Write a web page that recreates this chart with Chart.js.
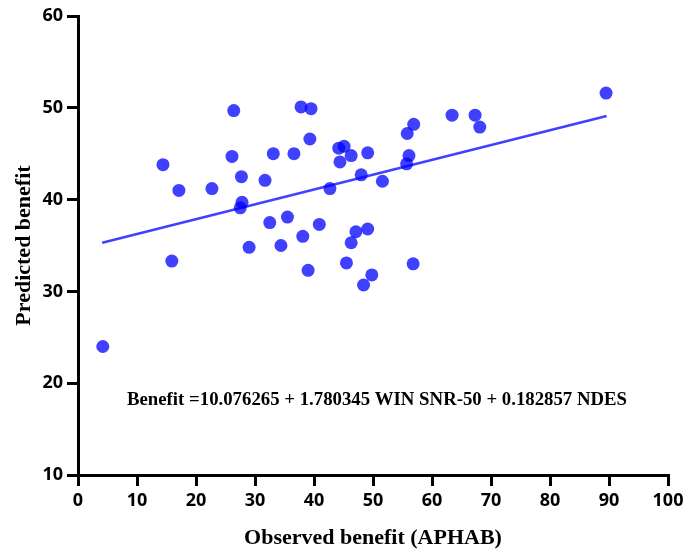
<!DOCTYPE html>
<html>
<head>
<meta charset="utf-8">
<script src="https://cdn.jsdelivr.net/npm/chart.js@4/dist/chart.umd.min.js"></script>
<style>
  html, body { margin: 0; padding: 0; background: #fff; }
  #wrap { width: 685px; height: 549px; }
</style>
</head>
<body>
<div id="wrap"><canvas id="c" width="685" height="549"></canvas></div>
<script>
// Observed (APHAB) vs predicted benefit per participant
const observed = [4.2, 14.4, 15.9, 17.1, 22.7, 26.4, 26.1, 27.7, 27.8, 27.5, 29.0, 31.7, 32.5, 33.1, 34.4, 35.5,
  36.6, 37.8, 38.1, 39.0, 39.3, 39.5, 40.9, 42.7, 44.2, 45.1, 44.4, 46.3, 45.5, 46.3, 47.1, 48.0, 48.4, 49.1,
  49.1, 49.8, 51.6, 55.8, 56.9, 56.1, 55.7, 56.8, 63.4, 67.3, 68.1, 89.5];
const predicted = [24.0, 43.8, 33.3, 41.0, 41.2, 49.7, 44.7, 42.5, 39.7, 39.1, 34.8, 42.1, 37.5, 45.0, 35.0, 38.1,
  45.0, 50.1, 36.0, 32.3, 46.6, 49.9, 37.3, 41.2, 45.6, 45.8, 44.1, 44.8, 33.1, 35.3, 36.5, 42.7, 30.7, 45.1,
  36.8, 31.8, 42.0, 47.2, 48.2, 44.8, 43.9, 33.0, 49.2, 49.2, 47.9, 51.6];

// Fitted trend line end points
const fitX = [4.1, 89.6];
const fitY = [35.3, 49.1];

const xTicks = [0, 10, 20, 30, 40, 50, 60, 70, 80, 90, 100];
const yTicks = [10, 20, 30, 40, 50, 60];

const equationText = 'Benefit =10.076265 + 1.780345 WIN SNR-50 + 0.182857 NDES';
const equationAt = { x: 8.3, y: 18.2 };

const blue = 'rgba(0, 0, 255, 0.75)';

const equationPlugin = {
  id: 'equation',
  afterDatasetsDraw(chart) {
    const ctx = chart.ctx;
    const px = chart.scales.x.getPixelForValue(equationAt.x);
    const py = chart.scales.y.getPixelForValue(equationAt.y);
    ctx.save();
    ctx.font = 'bold 18.8px "Liberation Serif", "Times New Roman", serif';
    ctx.fillStyle = '#000';
    ctx.textAlign = 'left';
    ctx.textBaseline = 'middle';
    ctx.fillText(equationText, px, py);
    ctx.restore();
  }
};

const tickFont = { family: '"Open Sans", "Noto Sans", sans-serif', size: 18, weight: 'bold' };
const titleFont = { family: '"Liberation Serif", "Times New Roman", serif', size: 22, weight: 'bold', lineHeight: 1 };

new Chart(document.getElementById('c'), {
  type: 'scatter',
  data: {
    datasets: [
      {
        type: 'line',
        data: fitX.map((x, i) => ({ x, y: fitY[i] })),
        borderColor: blue,
        borderWidth: 2.5,
        pointRadius: 0,
        fill: false,
        order: 1
      },
      {
        data: observed.map((x, i) => ({ x, y: predicted[i] })),
        backgroundColor: blue,
        borderWidth: 0,
        pointRadius: 6.5,
        pointHoverRadius: 6.5,
        order: 2
      }
    ]
  },
  options: {
    responsive: false,
    animation: false,
    events: [],
    layout: { padding: { top: 16, right: 0, left: 0, bottom: 0 } },
    plugins: { legend: { display: false }, tooltip: { enabled: false } },
    scales: {
      x: {
        type: 'linear',
        min: 0, max: 100,
        afterBuildTicks: s => { s.ticks = xTicks.map(v => ({ value: v })); },
        afterFit: s => { s.height = 74; s.paddingRight = 17; s.paddingLeft = 0; },
        border: { color: '#000', width: 3 },
        grid: { drawOnChartArea: false, color: '#000', lineWidth: 3, tickLength: 11, tickWidth: 3, tickColor: '#000' },
        ticks: { color: '#000', font: tickFont, padding: 4, maxRotation: 0 },
        title: { display: true, text: 'Observed benefit (APHAB)', color: '#000', font: titleFont, padding: { top: 0, bottom: 0 } }
      },
      y: {
        type: 'linear',
        min: 10, max: 60,
        afterBuildTicks: s => { s.ticks = yTicks.map(v => ({ value: v })); },
        afterFit: s => { s.width = 78; },
        border: { color: '#000', width: 3 },
        grid: { drawOnChartArea: false, color: '#000', lineWidth: 3, tickLength: 11, tickWidth: 3, tickColor: '#000' },
        ticks: { color: '#000', font: tickFont, padding: 4 },
        title: { display: true, text: 'Predicted benefit', color: '#000', font: titleFont, padding: { top: 13, bottom: 0 } }
      }
    }
  },
  plugins: [equationPlugin]
});
</script>
</body>
</html>
